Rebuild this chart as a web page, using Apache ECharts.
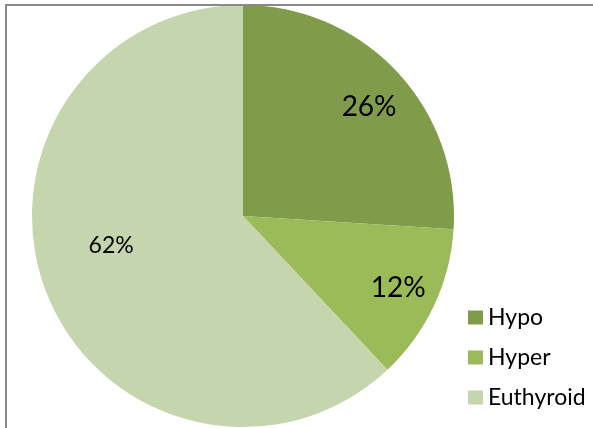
<!DOCTYPE html>
<html>
<head>
<meta charset="utf-8">
<script src="https://cdn.jsdelivr.net/npm/echarts@6/dist/echarts.min.js"></script>
<style>
  html, body { margin: 0; padding: 0; background: #ffffff; }
  #chart { width: 593px; height: 428px; }
</style>
</head>
<body>
<div id="chart"></div>
<script>
// Thyroid status breakdown (percent of patients)
const categories = ['Hypo', 'Hyper', 'Euthyroid'];
const shares = [26, 12, 62];
const sliceColors = ['#809C4B', '#9BBB59', '#C5D5AD'];

// Label fine-tuning per slice (shift from the default inside spot, and size)
const labelShift = [[47, -35], [57, 26], [-31, -10]];
const labelSize = [28, 28, 23];

const chart = echarts.init(document.getElementById('chart'));

chart.setOption({
  animation: false,
  backgroundColor: '#ffffff',
  graphic: [{
    type: 'rect',
    shape: { x: 6, y: 5, width: 620, height: 460 },
    style: { fill: 'none', stroke: '#898989', lineWidth: 2 },
    z: 100
  }],
  legend: {
    orient: 'vertical',
    left: 463,
    top: 301,
    height: 200,
    itemWidth: 15,
    itemHeight: 14,
    itemGap: 17,
    icon: 'rect',
    textStyle: { fontFamily: 'Lato', fontSize: 23, lineHeight: 14, color: '#000000', padding: [0, 0, 0, 0] },
    data: categories
  },
  series: [{
    type: 'pie',
    center: [243, 216],
    radius: 211,
    startAngle: 90,
    clockwise: true,
    color: sliceColors,
    label: {
      show: true,
      position: 'inside',
      formatter: '{d}%',
      fontFamily: 'Lato',
      color: '#000000'
    },
    labelLine: { show: false },
    labelLayout: function (p) {
      return { dx: labelShift[p.dataIndex][0], dy: labelShift[p.dataIndex][1] };
    },
    emphasis: { disabled: true },
    itemStyle: { borderWidth: 0 },
    data: categories.map((name, i) => ({
      name: name,
      value: shares[i],
      label: { fontSize: labelSize[i] }
    }))
  }]
});
</script>
</body>
</html>
